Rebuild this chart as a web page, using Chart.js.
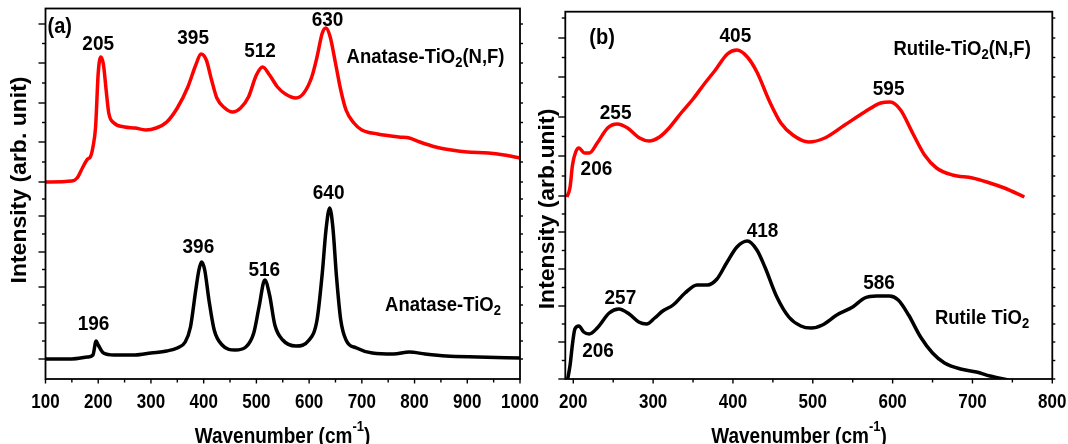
<!DOCTYPE html>
<html>
<head>
<meta charset="utf-8">
<script src="https://cdn.jsdelivr.net/npm/chart.js@4.4.1/dist/chart.umd.min.js"></script>
<style>
html,body{margin:0;padding:0;background:#fff;}
#wrap{position:relative;width:1068px;height:444px;overflow:hidden;}
canvas{position:absolute;left:0;top:0;}
</style>
</head>
<body>
<div id="wrap">
<canvas id="cA" width="1068" height="444"></canvas>
<canvas id="cB" width="1068" height="444"></canvas>
</div>
<script>
// ---------- DATA ----------
// Panel (a)
const anataseNF_x = [100,150,160,170,180,185,190,195,200,205,210,215,220,230,250,270,290,310,330,350,370,385,395,405,415,425,440,455,470,485,500,512,525,540,555,575,590,605,615,625,632,640,650,660,670,685,700,730,770,790,810,840,870,900,940,970,1000];
const anataseNF_y = [197,198,201,211,220,222,232,252,306,322,314,289,266,256,252,251,249,251,257,271,292,314,325,319,299,281,271,267,271,282,304,312,304,292,285,281,286,302,322,346,351,342,316,289,269,256,249,245,242,241,237,232,229,227,226,224,221];
const anatase_x = [100,150,180,190,196,200,210,230,270,300,330,350,365,375,385,391,396,402,410,420,435,460,480,495,505,516,525,535,550,575,600,615,625,632,639,645,652,660,670,690,720,760,790,820,860,920,1000];
const anatase_y = [20,20,22,24,38,34,26,24,24,26,28,31,37,52,89,109,117,109,79,49,34,29,32,46,72,99,84,54,39,33,39,59,106,149,171,152,102,59,39,31,26,25,27,25,23,22,21];
// Panel (b)
const rutileNF_x = [192,196,199,203,207,214,220,230,243,255,268,283,295,308,320,335,350,365,378,393,405,418,430,445,460,475,495,515,540,565,585,597,610,625,640,655,675,700,718,740,765];
const rutileNF_y = [182,192,214,227,231,226,226,236,251,255,251,241,238,242,251,266,280,296,309,325,329,322,307,279,256,244,237,241,254,267,276,277,269,246,224,211,204,201,197,191,182];
const rutile_x = [193,196,199,202,207,213,220,230,245,257,270,282,292,302,312,325,340,355,368,380,392,405,418,430,440,455,470,485,498,512,530,550,565,580,596,607,620,635,650,665,685,705,722,745];
const rutile_y = [0,14,35,50,53,47,45,51,66,70,65,57,55,61,68,74,86,94,94,100,116,132,138,129,112,82,62,53,51,54,64,72,81,83,83,79,64,42,26,16,10,7,3,-1];

// tick values
const xTicksA = [100,200,300,400,500,600,700,800,900,1000];
const xMinorA = [150,250,350,450,550,650,750,850,950];
const xTicksB = [200,300,400,500,600,700,800];
const xMinorB = [250,350,450,550,650,750];
const yMajorA = [20,56,92,127,163,197,237,276,316,355];
const yMajorB = [0,37,73,110,147,183,223,262,302,341];

// peak / sample labels  (text, wavenumber, intensity)
const labelsA = [
  {t:'(a)', x:127, y:352, size:20},
  {t:'205', x:200, y:335},
  {t:'395', x:380, y:341},
  {t:'512', x:507, y:328},
  {t:'630', x:635, y:359},
  {parts:[['Anatase-TiO'],['2','sub'],['(N,F)']], x:671, y:322, align:'left'},
  {t:'196', x:191, y:55},
  {t:'396', x:390, y:132},
  {t:'516', x:515, y:109},
  {t:'640', x:637, y:186},
  {parts:[['Anatase-TiO'],['2','sub']], x:744, y:74, align:'left'}
];
const labelsB = [
  {t:'(b)', x:236, y:341, size:20},
  {t:'405', x:403, y:343},
  {parts:[['Rutile-TiO'],['2','sub'],['(N,F)']], x:601, y:330, align:'left'},
  {t:'255', x:253, y:266},
  {t:'206', x:229, y:210},
  {t:'595', x:595, y:290},
  {t:'418', x:437, y:148},
  {t:'257', x:259, y:81},
  {t:'206', x:231, y:28},
  {t:'586', x:583, y:96},
  {parts:[['Rutile TiO'],['2','sub']], x:653, y:61, align:'left'}
];

const FONT = '"Liberation Sans", Arial, Helvetica, sans-serif';

function mids(arr){ const r=[]; for(let i=0;i<arr.length-1;i++) r.push((arr[i]+arr[i+1])/2); return r; }
function pts(xs, ys){ return xs.map((x,i)=>({x:x, y:ys[i]})); }

// draws text pieces (with sub/superscripts), vertically stretched by ky
function drawParts(ctx, parts, x, y, align, size, ky){
  const sub = Math.round(size*0.68);
  let total = 0;
  const ws = parts.map(p=>{ ctx.font = 'bold '+(p[1]?sub:size)+'px '+FONT; const w=ctx.measureText(p[0]).width; total+=w; return w; });
  ctx.save();
  ctx.translate(x, y);
  ctx.scale(1, ky||1);
  let cx = align==='left' ? 0 : -total/2;
  parts.forEach((p,i)=>{
    ctx.font = 'bold '+(p[1]?sub:size)+'px '+FONT;
    let dy = 0;
    if(p[1]==='sub') dy = size*0.32;
    if(p[1]==='sup') dy = -size*0.55;
    ctx.textAlign='left';
    ctx.fillText(p[0], cx, dy);
    cx += ws[i];
  });
  ctx.restore();
}

const deco = {
  id:'deco',
  afterDraw(chart, args, o){
    const ctx = chart.ctx, a = chart.chartArea, xs = chart.scales.x, ys = chart.scales.y;
    ctx.save();
    ctx.strokeStyle = '#000'; ctx.fillStyle = '#000';
    ctx.lineWidth = 1.8;
    ctx.strokeRect(a.left, a.top, a.right-a.left, a.bottom-a.top);
    ctx.lineWidth = 1.4;
    const ln = (x1,y1,x2,y2)=>{ ctx.beginPath(); ctx.moveTo(x1,y1); ctx.lineTo(x2,y2); ctx.stroke(); };
    o.yMajor.forEach(v=>{ const p=ys.getPixelForValue(v); ln(a.left-7,p,a.left,p); ln(a.right,p,a.right+3,p); });
    o.yMinor.forEach(v=>{ const p=ys.getPixelForValue(v); ln(a.left-3.5,p,a.left,p); ln(a.right,p,a.right+3,p); });
    o.xMajor.forEach(v=>{ const p=xs.getPixelForValue(v); ln(p,a.bottom,p,a.bottom+4.5); });
    o.xMinor.forEach(v=>{ const p=xs.getPixelForValue(v); ln(p,a.bottom,p,a.bottom+3.5); });
    // x tick labels from the scale's ticks
    ctx.textBaseline = 'alphabetic';
    xs.ticks.forEach(t=>{
      drawParts(ctx, [[String(t.value)]], xs.getPixelForValue(t.value), a.bottom+28.5, 'center', 17, 1.17);
    });
    // labels
    ctx.textBaseline = 'middle';
    o.labels.forEach(l=>{
      const px = xs.getPixelForValue(l.x), py = ys.getPixelForValue(l.y);
      const size = l.size || 19;
      if(l.parts) drawParts(ctx, l.parts, px, py, l.align||'center', l.parts.length>2?18.5:18.5, 1.1);
      else drawParts(ctx, [[l.t]], px, py, l.align||'center', size, 1.1);
    });
    // x title
    ctx.textBaseline = 'alphabetic';
    drawParts(ctx, [['Wavenumber (cm'],['-1','sup'],[')']], o.xTitleX, o.xTitleY, 'center', 19, 1.13);
    // y title
    ctx.translate(o.yTitleX, o.yTitleY);
    ctx.rotate(-Math.PI/2);
    ctx.scale(1.0, 0.95);
    ctx.font = 'bold 23px '+FONT;
    ctx.textAlign = 'center';
    ctx.fillText(o.yTitle, 0, 0);
    ctx.restore();
  }
};

function makeChart(id, cfg){
  return new Chart(document.getElementById(id), {
    type:'line',
    data:{ datasets: cfg.sets.map(s=>({
      data: s.data, borderColor: s.color, borderWidth: 3.5, pointRadius: 0,
      cubicInterpolationMode:'monotone', fill:false
    }))},
    options:{
      responsive:false, animation:false, devicePixelRatio:1,
      layout:{ padding: cfg.padding },
      plugins:{ legend:{display:false}, tooltip:{enabled:false}, deco: cfg.deco },
      scales:{
        x:{ type:'linear', min:cfg.xmin, max:cfg.xmax,
            grid:{display:false, drawTicks:false}, border:{display:false},
            afterBuildTicks: s=>{ s.ticks = cfg.xTicks.map(v=>({value:v})); },
            afterFit: s=>{ s.height = 65; },
            ticks:{ display:false } },
        y:{ type:'linear', display:false, min:cfg.ymin, max:cfg.ymax }
      }
    },
    plugins:[deco]
  });
}

makeChart('cA', {
  sets:[ {data:pts(anataseNF_x, anataseNF_y), color:'#ff0000'}, {data:pts(anatase_x, anatase_y), color:'#000000'} ],
  padding:{left:45.5, right:548, top:8.5, bottom:0},
  xmin:100, xmax:1000, ymin:0, ymax:370.5, xTicks:xTicksA,
  deco:{ yMajor:yMajorA, yMinor:mids(yMajorA), xMajor:xTicksA, xMinor:xMinorA, labels:labelsA,
         xTitleX:282.5, xTitleY:443, yTitleX:26, yTitleY:180, yTitle:'Intensity (arb. unit)' }
});
makeChart('cB', {
  sets:[ {data:pts(rutileNF_x, rutileNF_y), color:'#ff0000'}, {data:pts(rutile_x, rutile_y), color:'#000000'} ],
  padding:{left:565.3, right:15.7, top:11.7, bottom:0},
  xmin:190, xmax:800, ymin:0, ymax:367.3, xTicks:xTicksB,
  deco:{ yMajor:yMajorB, yMinor:mids(yMajorB).concat([361]), xMajor:xTicksB, xMinor:xMinorB, labels:labelsB,
         xTitleX:799, xTitleY:443, yTitleX:554, yTitleY:209, yTitle:'Intensity (arb.unit)' }
});
</script>
</body>
</html>
